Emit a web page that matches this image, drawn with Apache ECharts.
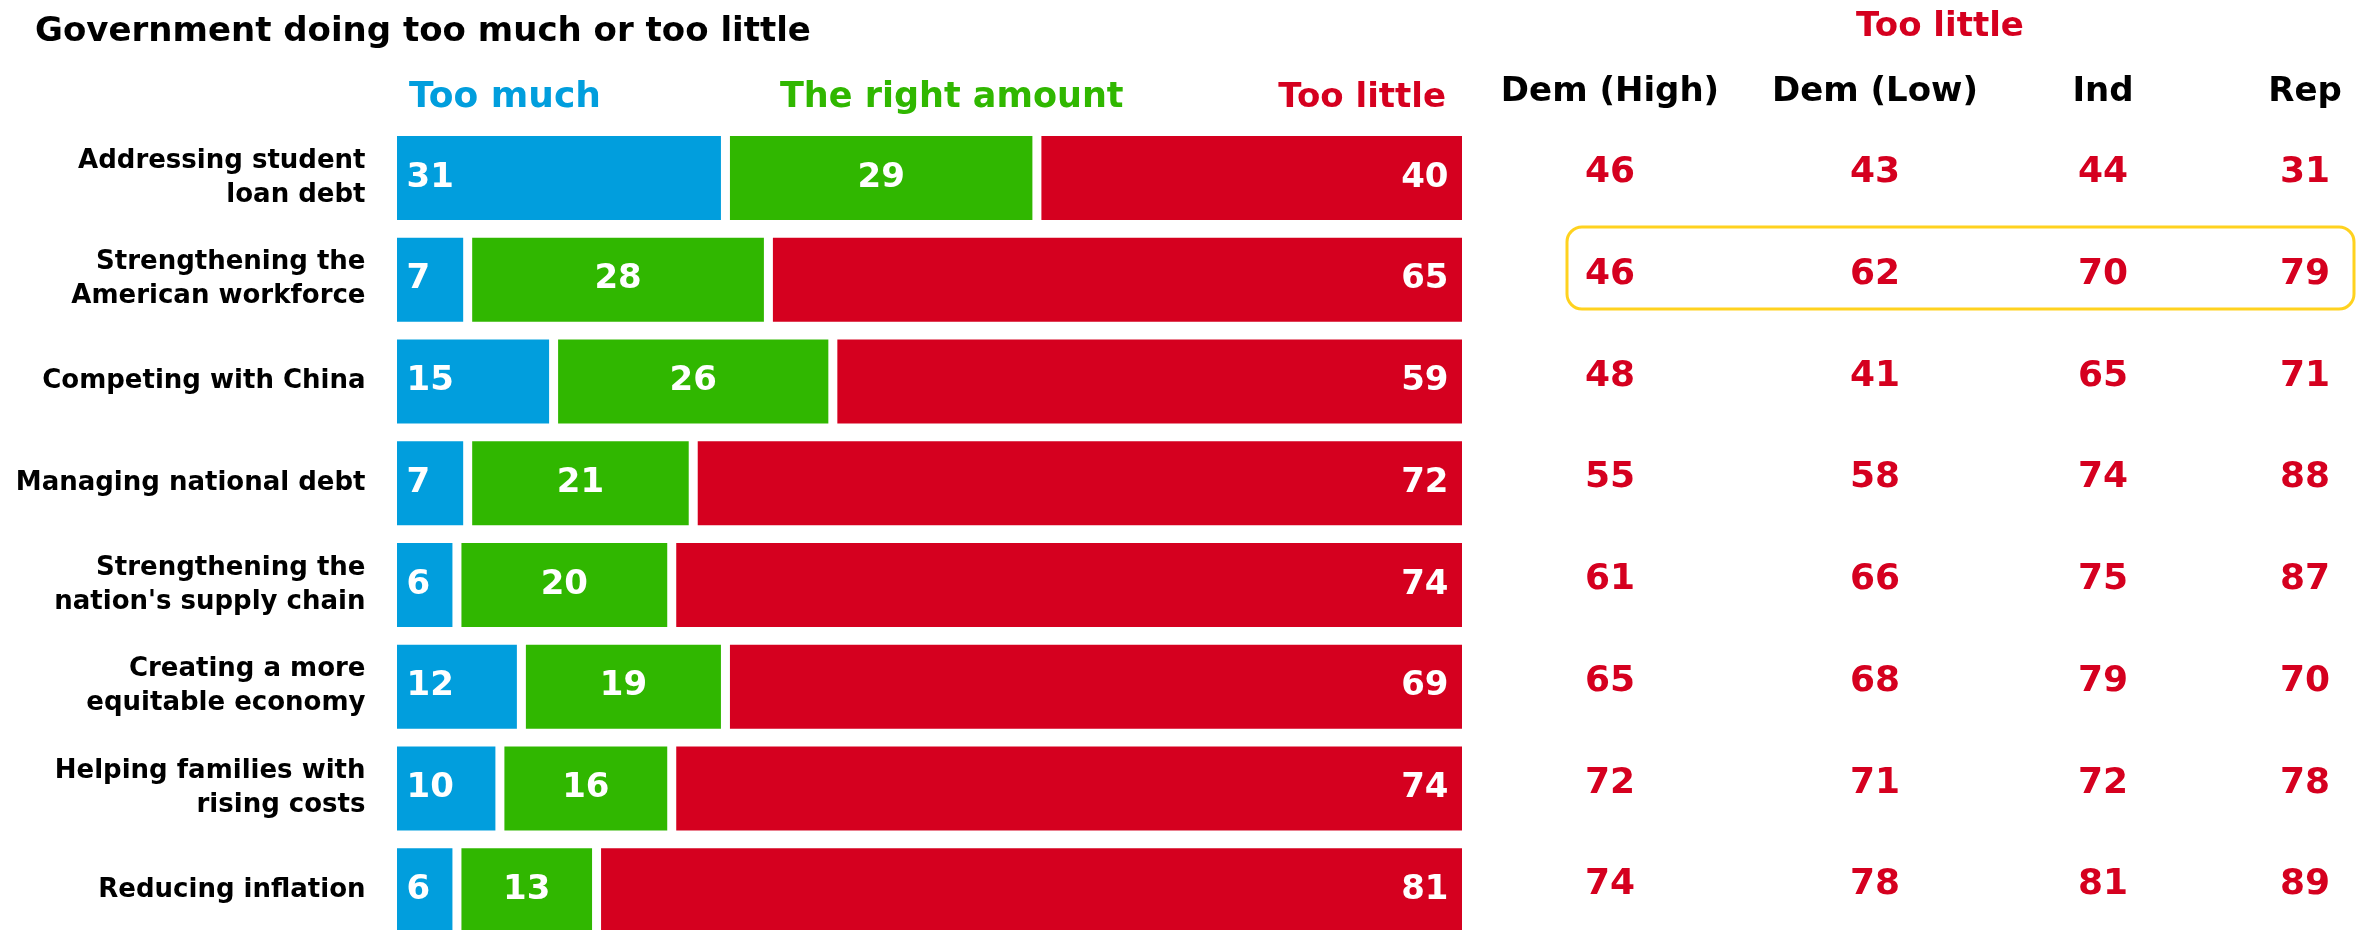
<!DOCTYPE html>
<html>
<head>
<meta charset="utf-8">
<script src="https://cdn.jsdelivr.net/npm/echarts@6/dist/echarts.min.js"></script>
<style>
  html, body { margin: 0; padding: 0; background: #fff; }
  #main { width: 2366px; height: 930px; }
</style>
</head>
<body>
<div id="main"></div>
<script>
var topics = [
  'Addressing student\nloan debt',
  'Strengthening the\nAmerican workforce',
  'Competing with China',
  'Managing national debt',
  "Strengthening the\nnation's supply chain",
  'Creating a more\nequitable economy',
  'Helping families with\nrising costs',
  'Reducing inflation'
];

var tooMuch = [31, 7, 15, 7, 6, 12, 10, 6];
var rightAmount = [29, 28, 26, 21, 20, 19, 16, 13];
var tooLittle = [40, 65, 59, 72, 74, 69, 74, 81];

// "Too little" by party group
var groups = ['Dem (High)', 'Dem (Low)', 'Ind', 'Rep'];
var demHigh = [46, 46, 48, 55, 61, 65, 72, 74];
var demLow = [43, 62, 41, 58, 66, 68, 71, 78];
var ind = [44, 70, 65, 74, 75, 79, 72, 81];
var rep = [31, 79, 71, 88, 87, 70, 78, 89];

var BLUE = '#019edd', GREEN = '#30b700', RED = '#d5001f';
var FONT = '"DejaVu Sans", sans-serif';

var chart = echarts.init(document.getElementById('main'));

// rows run past the bottom edge, like the source picture
var gridTop = 127, gridHeight = 814;
var colCenters = [1610, 1875, 2103, 2305];
var groupValues = [demHigh, demLow, ind, rep];

var grids = [{ left: 392.5, width: 1074, top: gridTop, height: gridHeight, outerBoundsMode: 'none' }];
var xAxes = [{ type: 'value', min: 0, max: 100, show: false, gridIndex: 0 }];
var yAxes = [{
  type: 'category', data: topics, inverse: true, gridIndex: 0,
  axisLine: { show: false }, axisTick: { show: false },
  axisLabel: {
    margin: 27, color: '#000', fontFamily: FONT, fontWeight: 'bold',
    fontSize: 26, lineHeight: 34, align: 'right'
  }
}];

function barSeries(name, data, color, pos, dist) {
  return {
    name: name, type: 'bar', stack: 'all', data: data,
    xAxisIndex: 0, yAxisIndex: 0, barWidth: 93,
    itemStyle: { color: color, borderColor: '#fff', borderWidth: 4.5 },
    label: {
      show: true, position: pos, distance: dist, color: '#fff',
      textBorderWidth: 0,
      fontFamily: FONT, fontWeight: 'bold', fontSize: 34
    },
    silent: true
  };
}

var series = [
  barSeries('Too much', tooMuch, BLUE, 'insideLeft', 14),
  barSeries('The right amount', rightAmount, GREEN, 'inside', 0),
  barSeries('Too little', tooLittle, RED, 'insideRight', 18)
];

groups.forEach(function (g, i) {
  var gi = i + 1;
  grids.push({
    left: colCenters[i] - 60, width: 120, top: gridTop, height: gridHeight,
    outerBoundsMode: 'none'
  });
  xAxes.push({
    type: 'category', data: [g], gridIndex: gi, position: 'top',
    axisLine: { show: false }, axisTick: { show: false },
    axisLabel: { margin: 18, color: '#000', fontFamily: FONT, fontWeight: 'bold', fontSize: 34 }
  });
  yAxes.push({ type: 'category', data: topics, inverse: true, gridIndex: gi, show: false });
  series.push({
    type: 'scatter', xAxisIndex: gi, yAxisIndex: gi, symbolSize: 0,
    itemStyle: { color: RED, opacity: 1 },
    data: groupValues[i].map(function (v, k) { return [g, topics[k], v]; }),
    label: {
      show: true, position: 'inside', offset: [0, -5],
      formatter: function (p) { return p.data[2]; },
      color: RED, textBorderWidth: 0, opacity: 1,
      fontFamily: FONT, fontWeight: 'bold', fontSize: 36
    },
    silent: true
  });
});

function txt(x, y, text, color, size, align) {
  return {
    type: 'text', x: x, y: y,
    style: {
      text: text, fill: color, font: 'bold ' + size + 'px ' + FONT,
      textAlign: align, textVerticalAlign: 'middle'
    }
  };
}

chart.setOption({
  animation: false,
  grid: grids,
  xAxis: xAxes,
  yAxis: yAxes,
  series: series,
  graphic: [
    txt(35, 32, 'Government doing too much or too little', '#000', 34, 'left'),
    txt(409, 98, 'Too much', BLUE, 36, 'left'),
    txt(780, 98, 'The right amount', GREEN, 35, 'left'),
    txt(1446, 98, 'Too little', RED, 34, 'right'),
    txt(1940, 27, 'Too little', RED, 34, 'center'),
    {
      type: 'rect', shape: { x: 1567, y: 227, width: 787, height: 82, r: 15 },
      style: { fill: 'none', stroke: '#ffd21f', lineWidth: 3 }
    }
  ]
});
</script>
</body>
</html>
